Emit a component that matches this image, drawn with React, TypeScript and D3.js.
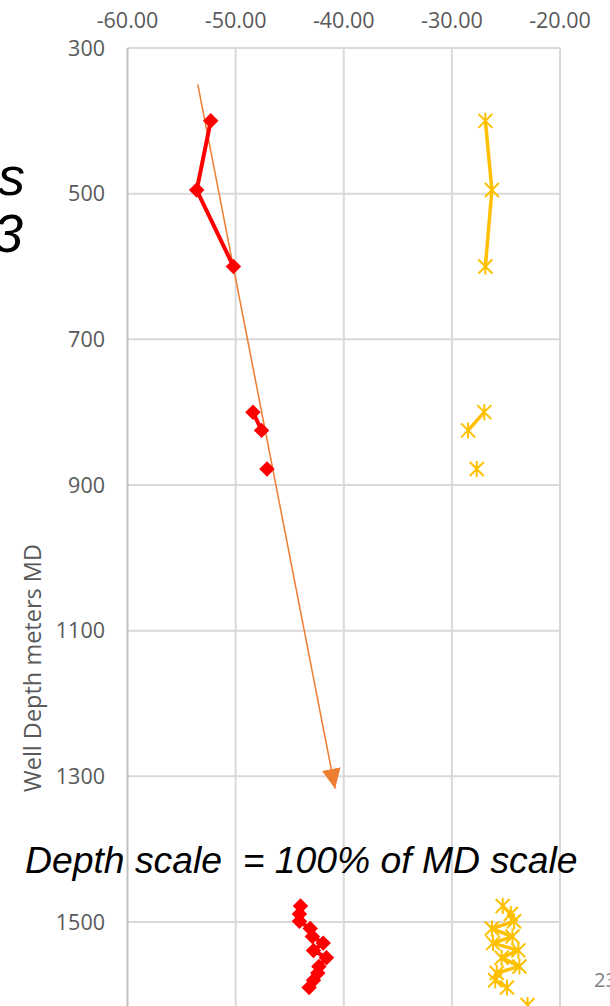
import React from "react";
import * as d3 from "d3";

// ---- data ----
const depths: number[] = [400, 495, 600, 700, 800, 825, 850, 878, 1000, 1478, 1489, 1499, 1509, 1520, 1529, 1539, 1549, 1561, 1570, 1580, 1590, 1600, 1614];
const redSeries: (number | null)[] = [-52.3, -53.6, -50.2, null, -48.4, -47.6, null, -47.1, null, -44.0, -44.1, -44.1, -43.1, -42.9, -41.9, -42.8, -41.6, -42.3, -42.4, -42.8, -43.2, null, null];
const yellowSeries: (number | null)[] = [-26.9, -26.3, -26.9, null, -27.0, -28.5, null, -27.7, null, -25.3, -24.55, -24.25, -26.3, -24.4, -26.2, -23.85, -25.4, -23.75, -25.85, -26.0, -24.9, null, -23.0];
const trendX: number[] = [-53.5, -40.8];
const trendDepth: number[] = [350, 1317];
const xTicks: number[] = [-60, -50, -40, -30, -20];
const yTicks: number[] = [300, 500, 700, 900, 1100, 1300, 1500];

const W = 610;
const H = 1006;

export default function App() {
  const x = d3.scaleLinear().domain([-60, -20]).range([127.5, 560]);
  const y = d3.scaleLinear().domain([300, 1500]).range([48, 922]);

  type Pt = { d: number; v: number | null };
  const red: Pt[] = depths.map((d, i) => ({ d, v: redSeries[i] }));
  const yel: Pt[] = depths.map((d, i) => ({ d, v: yellowSeries[i] }));
  const line = d3
    .line<Pt>()
    .defined((p) => p.v != null)
    .x((p) => x(p.v as number))
    .y((p) => y(p.d));

  const diamond = d3.symbol().type(d3.symbolSquare).size(120)() as string;
  const s = 7;
  const star = `M${-s},${-s}L${s},${s}M${-s},${s}L${s},${-s}M0,${-s - 1}L0,${s + 1}`;

  const tickFont = "'Open Sans', sans-serif";
  const tickColor = "#595959";

  return (
    <svg
      width={W}
      height={H}
      style={{ position: "absolute", left: 0, top: 0, background: "#fff" }}
    >
      <defs>
        <marker
          id="arrow"
          markerUnits="userSpaceOnUse"
          markerWidth="20"
          markerHeight="20"
          viewBox="-16 -8 16 16"
          refX="0"
          refY="0"
          orient="auto"
        >
          <path d="M-16,-7.5L0,0L-16,7.5Z" fill="#ED7D31" />
        </marker>
      </defs>

      {/* gridlines */}
      {yTicks.map((t) => (
        <line key={"h" + t} x1={x(-60)} x2={x(-20)} y1={y(t)} y2={y(t)} stroke="#d9d9d9" strokeWidth={2} />
      ))}
      {xTicks.slice(1).map((t) => (
        <line key={"v" + t} x1={x(t)} x2={x(t)} y1={y(300)} y2={H + 10} stroke="#d9d9d9" strokeWidth={2} />
      ))}
      <line x1={x(-60)} x2={x(-60)} y1={y(300)} y2={H + 10} stroke="#bfbfbf" strokeWidth={2} />

      {/* tick labels */}
      {xTicks.map((t) => (
        <text key={"xt" + t} x={x(t)} y={28} textAnchor="middle" fontFamily={tickFont} fontSize={21.5} fill={tickColor}>
          {t.toFixed(2)}
        </text>
      ))}
      {yTicks.map((t) => (
        <text key={"yt" + t} x={105} y={y(t)} dy="0.36em" textAnchor="end" fontFamily={tickFont} fontSize={21.5} fill={tickColor}>
          {t}
        </text>
      ))}
      <text
        transform={`translate(41,668) rotate(-90)`}
        textAnchor="middle"
        fontFamily={tickFont}
        fontSize={23.5}
        fill={tickColor}
      >
        Well Depth meters MD
      </text>

      {/* trend arrow */}
      <line
        x1={x(trendX[0])}
        y1={y(trendDepth[0])}
        x2={x(trendX[1])}
        y2={y(trendDepth[1])}
        stroke="#ED7D31"
        strokeWidth={1.5}
        markerEnd="url(#arrow)"
      />

      {/* red series */}
      <path d={line(red) || ""} fill="none" stroke="#FF0000" strokeWidth={4} strokeLinejoin="round" />
      {red
        .filter((p) => p.v != null)
        .map((p, i) => (
          <path key={"r" + i} d={diamond} transform={`translate(${x(p.v as number)},${y(p.d)}) rotate(45)`} fill="#FF0000" />
        ))}

      {/* yellow series */}
      <path d={line(yel) || ""} fill="none" stroke="#FFC000" strokeWidth={3.5} strokeLinejoin="round" />
      {yel
        .filter((p) => p.v != null)
        .map((p, i) => (
          <path key={"y" + i} d={star} transform={`translate(${x(p.v as number)},${y(p.d)})`} stroke="#FFC000" strokeWidth={2} fill="none" />
        ))}

      {/* slide text */}
      <text x={25} y={873} xmlSpace="preserve" style={{ whiteSpace: "pre" }} fontFamily="'Liberation Sans', Arial, sans-serif" fontStyle="italic" fontSize={37.3} fill="#000">
        {"Depth scale  = 100% of MD scale"}
      </text>
      <text x={25} y={195} textAnchor="end" fontFamily="'Liberation Sans', Arial, sans-serif" fontStyle="italic" fontSize={54} fill="#000">
        s
      </text>
      <text x={23} y={252} textAnchor="end" fontFamily="'Liberation Sans', Arial, sans-serif" fontStyle="italic" fontSize={54} fill="#000">
        3
      </text>
      <text x={594} y={987} fontFamily={tickFont} fontSize={20} fill="#7f7f7f">
        23
      </text>
    </svg>
  );
}
